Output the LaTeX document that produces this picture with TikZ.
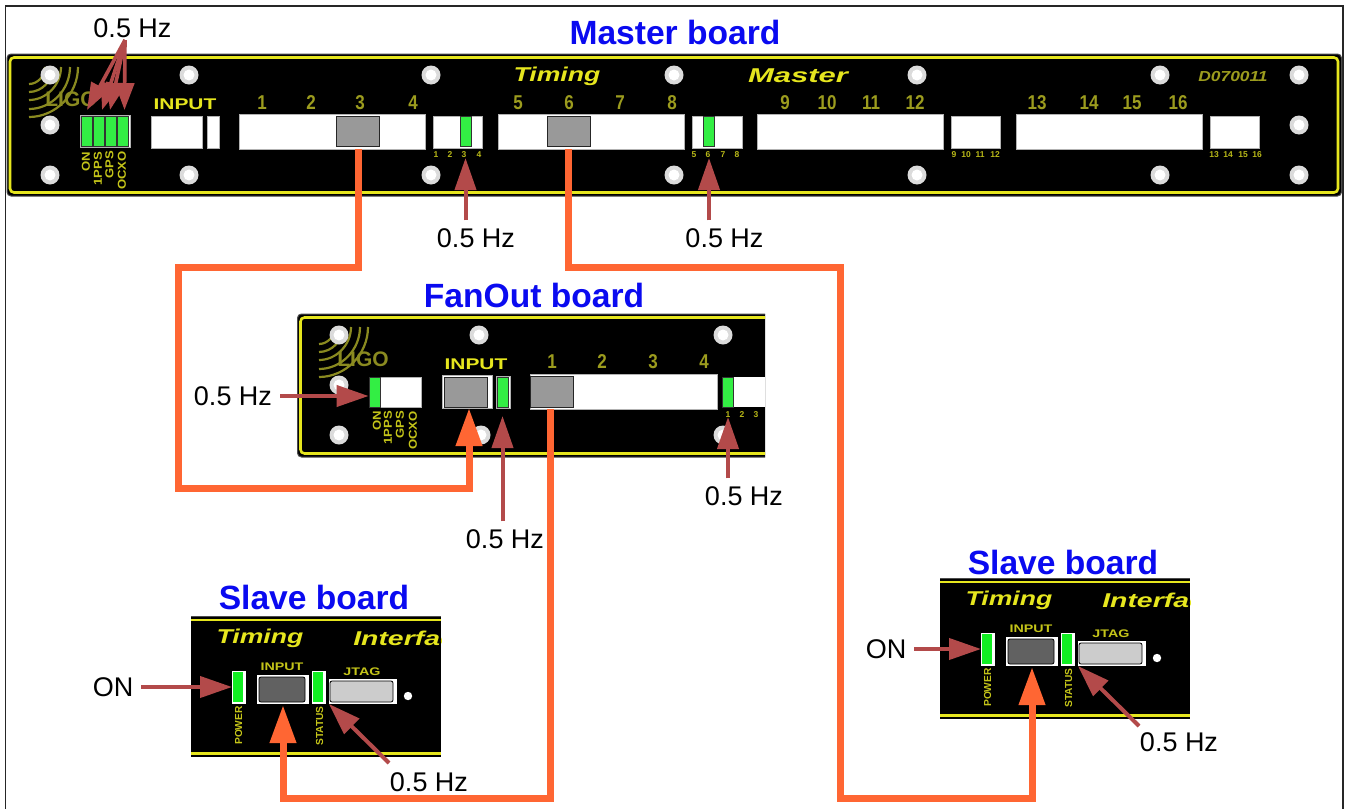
\documentclass[tikz,border=0pt]{standalone}
\usepackage{fontspec}
\setmainfont{Liberation Sans}
\usetikzlibrary{arrows.meta}
\definecolor{pcbyellow}{HTML}{E6E61E}
\definecolor{pcbolive}{HTML}{9C9C1E}
\definecolor{logoolive}{HTML}{8A8A20}
\definecolor{arrowred}{HTML}{B34A4A}
\definecolor{cableorange}{HTML}{FF6633}
\definecolor{ledgreen}{HTML}{33EE44}
\definecolor{slavegreen}{HTML}{11EE22}
\definecolor{boardblue}{HTML}{0A0AF0}
\newcommand{\wide}[1]{\scalebox{1.14}[1]{#1}}
\tikzset{
  panelface/.style={fill=black,draw=black!70,line width=1pt},
  trim/.style={draw=pcbyellow,line width=2.6pt},
  screwouter/.style={fill=black!14},
  screwinner/.style={fill=white},
  slot/.style={rectangle,fill=white,draw=black!30,line width=.7pt,inner sep=0pt,minimum width=#1},
  slot/.default=40pt,
  port/.style={rectangle,fill=black!40,draw=black!85,line width=1pt,inner sep=0pt},
  led/.style={rectangle,fill=ledgreen,draw=black!80,line width=.8pt,inner sep=0pt},
  title/.style={font=\fontsize{33.6}{36}\selectfont\bfseries,text=boardblue,inner sep=0pt},
  lab/.style={font=\fontsize{27}{30}\selectfont,text=black,inner sep=0pt,outer sep=8pt},
  silkbig/.style={font=\fontsize{20}{21}\selectfont\bfseries,text=pcbolive,inner sep=0pt,xscale=.85},
  silktiny/.style={font=\fontsize{8.5}{9}\selectfont\bfseries,text=pcbyellow!80!black,inner sep=0pt},
  silkvert/.style={font=\fontsize{11.5}{12}\selectfont\bfseries,text=pcbyellow!85!black,inner sep=0pt,rotate=90,anchor=east},
  silkvertsmall/.style={font=\fontsize{10.2}{11}\selectfont\bfseries,text=pcbyellow!85!black,inner sep=0pt,rotate=90,anchor=east},
  silkinput/.style={font=\fontsize{15.5}{16}\selectfont\bfseries,text=pcbyellow,inner sep=0pt,xscale=1.35},
  silksmall/.style={font=\fontsize{11}{12}\selectfont\bfseries,text=pcbyellow!85!black,inner sep=0pt,xscale=1.3},
  slogan/.style={font=\fontsize{20}{22}\selectfont\bfseries\itshape,text=pcbyellow,inner sep=0pt},
  logotext/.style={font=\fontsize{21}{22}\selectfont\bfseries,text=logoolive,inner sep=0pt},
  arc line/.style={draw=logoolive,line width=2.2pt},
  redarrow/.style={draw=arrowred,line width=4pt,-{Triangle[length=32pt,width=21pt,fill=arrowred]}},
  redthin/.style={draw=arrowred,line width=3.6pt,-{Triangle[length=27pt,width=19pt,fill=arrowred]}},
  cable/.style={draw=cableorange,line width=7pt,line join=miter},
  cablein/.style={cable,-{Triangle[length=38pt,width=25pt,fill=cableorange]}},
  frameline/.style={draw=black!85,line width=1.6pt},
}
\newcommand{\screws}[1]{%
  \foreach \sx/\sy in {#1}{%
    \fill[screwouter] (\sx,\sy) circle (9.5pt);
    \fill[screwinner] (\sx,\sy) circle (5.5pt);
  }}
\newcommand{\ripples}[2]{%
  \foreach \rr in {17,25,33,42,50}{%
    \pgfmathsetmacro{\ca}{#1+0.55*\rr}\pgfmathsetmacro{\cb}{#2+0.55*\rr}%
    \pgfmathsetmacro{\ea}{#1+\rr}\pgfmathsetmacro{\eb}{#2+\rr}%
    \draw[arc line] (#1+1,\eb) .. controls (\ca,\eb) and (\ea,\cb) .. (\ea,#2);
  }}
\newcommand{\slaveboard}{%
  \fill[black] (191,616) rectangle (441,757);
  \draw[black!70,line width=1pt] (191,616) -- (441,616);
  \begin{scope}
    \clip (191,614) rectangle (441,759);
    \draw[trim] (191,620) -- (441,620);
    \draw[trim] (191,753.5) -- (441,753.5);
    \node[slogan,xscale=1.33] (timing) at (260,638) {Timing};
    \node[slogan,xscale=1.42,anchor=west] (iface) at (353,638) {Interface};
  \end{scope}
  \node[rectangle,fill=white,inner sep=0pt,minimum width=14pt,minimum height=33pt] (pwrbox) at (239,687.5) {};
  \node[led,draw=none,fill=slavegreen,minimum width=10pt,minimum height=30pt] (pwr) at (238,687) {};
  \node[rectangle,fill=white,inner sep=0pt,minimum width=52pt,minimum height=29pt] (inbox) at (283,689.5) {};
  \node[rectangle,fill=black!62,draw=black,line width=.8pt,rounded corners=2pt,inner sep=0pt,minimum width=46pt,minimum height=25pt] (inport) at (282,689.5) {};
  \node[rectangle,fill=white,inner sep=0pt,minimum width=14pt,minimum height=33pt] (stbox) at (319,687.5) {};
  \node[led,draw=none,fill=slavegreen,minimum width=10pt,minimum height=30pt] (st) at (318,687) {};
  \node[rectangle,fill=white,inner sep=0pt,minimum width=68pt,minimum height=25pt] (jbox) at (363,691.5) {};
  \node[rectangle,fill=black!20,draw=black,line width=.8pt,rounded corners=2pt,inner sep=0pt,minimum width=63pt,minimum height=21pt] (jport) at (361.5,691.5) {};
  \fill[white] (408,696) circle (4.2pt);
  \node[silksmall] (intxt) at (282,667) {INPUT};
  \node[silksmall] (jtxt) at (362,672) {JTAG};
  \node[silkvertsmall] (ptxt) at (238.5,706) {POWER};
  \node[silkvertsmall] (stxt) at (319.5,706) {STATUS};
  \coordinate (pwrtip) at (232,687);
  \coordinate (sttip) at (329,704);
  \coordinate (intip) at (283,705);
}
\begin{document}
\begin{tikzpicture}[x=1pt,y=-1pt]
\useasboundingbox (0,0) rectangle (1345,809);
\fill[white] (0,0) rectangle (1345,809);
\draw[frameline] (5.5,809) -- (5.5,6) -- (1343,6) -- (1343,809);

%% ---------- Master board ----------
\draw[panelface,rounded corners=4pt] (7,54) rectangle (1341.5,196);
\draw[trim,rounded corners=4pt] (10,57.5) rectangle (1338,192.5);
\ripples{28}{67}
\screws{50/75,50/125,50/175,189/75,189/175,431/75,431/175,674/75,674/175,917/75,917/175,1160/75,1160/175,1299/75,1299/125,1299/175}
\node[logotext] (mlogo) at (71,99) {LIGO};
\node[silkinput] (minput) at (185,104) {INPUT};
\node[slogan,xscale=1.33] (mtiming) at (557,76) {Timing};
\node[slogan,xscale=1.55] (mmaster) at (798,76) {Master};
\node[font=\fontsize{14.5}{15}\selectfont\bfseries\itshape,text=pcbolive,inner sep=0pt,xscale=1.2] (mdoc) at (1233,77) {D070011};
\foreach \n/\x in {1/262,2/311,3/360,4/413,5/518,6/569,7/620,8/672,9/785,10/827,11/871,12/915,13/1037,14/1089,15/1132,16/1178}
  \node[silkbig] (mn\n) at (\x,102.5) {\n};
\foreach \n/\x in {1/436,2/450,3/464,4/479,5/694,6/708,7/723,8/737,9/954,10/966,11/980,12/995,13/1214,14/1228,15/1243,16/1257}
  \node[silktiny] (ms\n) at (\x,155) {\n};
% status block
\node[slot,minimum width=50pt,minimum height=32pt] (mstat) at (105,131) {};
\node[led,minimum width=11pt,minimum height=30pt] (mled1) at (86.5,131) {};
\node[led,minimum width=11pt,minimum height=30pt] (mled2) at (98.5,131) {};
\node[led,minimum width=11pt,minimum height=30pt] (mled3) at (110.5,131) {};
\node[led,minimum width=11pt,minimum height=30pt] (mled4) at (122.5,131) {};
\node[silkvert] (mt1) at (86,152) {\wide{ON}};
\node[silkvert] (mt2) at (98,152) {\wide{1PPS}};
\node[silkvert] (mt3) at (109.5,151) {\wide{GPS}};
\node[silkvert] (mt4) at (122,151) {\wide{OCXO}};
% input
\node[slot,minimum width=51pt,minimum height=32pt] (minbox) at (176.5,132) {};
\node[slot,minimum width=12pt,minimum height=32pt] (minbox2) at (213,132) {};
% connector bars
\node[slot,minimum width=186pt,minimum height=35pt] (mbar1) at (332,131.5) {};
\node[slot,minimum width=186pt,minimum height=35pt] (mbar2) at (591,131.5) {};
\node[slot,minimum width=186pt,minimum height=35pt] (mbar3) at (850,131.5) {};
\node[slot,minimum width=186pt,minimum height=35pt] (mbar4) at (1109,131.5) {};
\node[slot,minimum width=49pt,minimum height=32pt] (msm1) at (457.5,132) {};
\node[slot,minimum width=50pt,minimum height=32pt] (msm2) at (717,132) {};
\node[slot,minimum width=49pt,minimum height=32pt] (msm3) at (975.5,132) {};
\node[slot,minimum width=49pt,minimum height=32pt] (msm4) at (1234.5,132) {};
\node[port,minimum width=43pt,minimum height=30pt] (mport3) at (358,131) {};
\node[port,minimum width=43pt,minimum height=30pt] (mport6) at (568.5,131.5) {};
\node[led,minimum width=11pt,minimum height=30pt] (mled5) at (465.5,131) {};
\node[led,minimum width=11pt,minimum height=30pt] (mled6) at (709,131) {};

%% ---------- FanOut board ----------
\begin{scope}
  \clip (290,310) rectangle (765,462);
  \draw[panelface,rounded corners=4pt] (297.5,314) rectangle (790,457);
  \draw[trim,rounded corners=4pt] (300.5,317.5) rectangle (790,453.5);
\end{scope}
\ripples{318}{327}
\screws{339/335,339/385,339/435,479/335,481/435,723/335,723/435}
\node[logotext] (flogo) at (363,359) {LIGO};
\node[silkinput] (finput) at (476,364) {INPUT};
\foreach \n/\x in {1/552,2/602,3/653,4/704}
  \node[silkbig] (fn\n) at (\x,362) {\n};
\foreach \n/\x in {1/728,2/742,3/756}
  \node[silktiny] (fs\n) at (\x,415) {\n};
\node[slot,minimum width=52pt,minimum height=30pt] (fstat) at (395,392) {};
\node[led,minimum width=11pt,minimum height=30pt] (fled1) at (374.5,392) {};
\node[silkvert] (ft1) at (377,411) {\wide{ON}};
\node[silkvert] (ft2) at (388,411) {\wide{1PPS}};
\node[silkvert] (ft3) at (400,411) {\wide{GPS}};
\node[silkvert] (ft4) at (413,411) {\wide{OCXO}};
\node[slot,minimum width=50pt,minimum height=33pt] (finbox) at (467,391.5) {};
\node[port,minimum width=43pt,minimum height=30pt] (fport) at (465.5,392) {};
\node[slot,minimum width=14pt,minimum height=32pt] (fstbox) at (503,392) {};
\node[led,minimum width=11pt,minimum height=30pt] (fled2) at (502.5,392) {};
\node[slot,minimum width=187pt,minimum height=35pt] (fbar) at (623.5,391.5) {};
\node[port,minimum width=43pt,minimum height=31pt] (fport1) at (551.5,391.5) {};
\node[slot,draw=none,minimum width=43pt,minimum height=30pt] (fsm) at (743.5,392) {};
\node[led,minimum width=11pt,minimum height=30pt] (fled3) at (727.5,392) {};

%% ---------- Slave boards ----------
\begin{scope}[name prefix=sa-]
  \slaveboard
\end{scope}
\begin{scope}[shift={(749,-38)},name prefix=sb-]
  \slaveboard
\end{scope}

%% ---------- Titles and labels ----------
\node[title] (tmaster) at (675,32.5) {Master board};
\node[title] (tfan) at (534,295.5) {FanOut board};
\node[title] (tsa) at (314,597.5) {Slave board};
\node[title] (tsb) at (1063,562.5) {Slave board};

\node[lab] (l1) at (132.5,28) {0.5 Hz};
\node[lab] (l2) at (476,238) {0.5 Hz};
\node[lab] (l3) at (724.5,238) {0.5 Hz};
\node[lab] (l4) at (233,396) {0.5 Hz};
\node[lab] (l5) at (505,539) {0.5 Hz};
\node[lab] (l6) at (744,496) {0.5 Hz};
\node[lab] (l7) at (429,782) {0.5 Hz};
\node[lab] (l8) at (1179,742) {0.5 Hz};
\node[lab] (l9) at (113,687) {ON};
\node[lab] (l10) at (886,649) {ON};

%% ---------- Free ends ----------
\coordinate (o1) at (125,40);
\coordinate (t1a) at (87,110);
\coordinate (t1b) at (102,110);
\coordinate (t1c) at (110,110);
\coordinate (t1d) at (124.5,110);
\coordinate (t2) at (465.5,158);
\coordinate (t3) at (709,158);
\coordinate (t5) at (502.5,416);
\coordinate (t6) at (728,417);
\coordinate (s7) at (389,763);
\coordinate (s8) at (1139,726);
\coordinate (fintip) at (469,408);
\coordinate (c1a) at (178,267);
\coordinate (c1b) at (178,488);
\coordinate (c2a) at (840,267);
\coordinate (c2b) at (840,798);
\coordinate (c3a) at (550,798);
\coordinate (c3b) at (284,798);
\coordinate (c3s) at (550,409);

%% ---------- Cables ----------
\draw[cablein] (mport3 |- mbar1.south) -- (mport3 |- c1a) -- (c1a) -- (c1b) -- (fintip |- c1b) -- (fintip);
\draw[cablein] (mport6 |- mbar2.south) -- (mport6 |- c2a) -- (c2a) -- (c2b) -- (sb-intip |- c2b) -- (sb-intip);
\draw[cablein] (c3s) -- (c3a) -- (c3b) -- (sa-intip |- c3b) -- (sa-intip);

%% ---------- Indicator arrows ----------
\draw[redthin] (o1) -- (t1a);
\draw[redthin] (o1) -- (t1b);
\draw[redthin] (o1) -- (t1c);
\draw[redthin] (o1) -- (t1d);
\draw[redarrow] (t2 |- l2.north) -- (t2);
\draw[redarrow] (t3 |- l3.north) -- (t3);
\draw[redarrow] (l4.east) -- (fled1.west |- l4.east);
\draw[redarrow] (t5 |- l5.north) -- (t5);
\draw[redarrow] (t6 |- l6.north) -- (t6);
\draw[redarrow] (l9.east) -- (sa-pwrtip);
\draw[redarrow] (l10.east) -- (sb-pwrtip);
\draw[redarrow] (s7) -- (sa-sttip);
\draw[redarrow] (s8) -- (sb-sttip);
\end{tikzpicture}
\end{document}
